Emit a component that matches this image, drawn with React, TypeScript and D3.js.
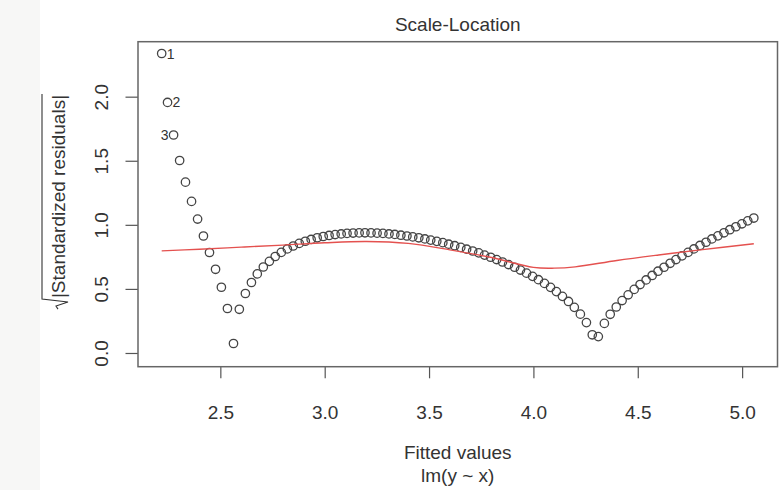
import React, { useEffect, useRef } from 'react';
import * as d3 from 'd3';

// fitted values of lm(y ~ x), one per observation
const fitted = [
  2.219, 2.247, 2.276, 2.305, 2.333, 2.362, 2.391, 2.419, 2.448, 2.477,
  2.505, 2.534, 2.563, 2.591, 2.620, 2.649, 2.677, 2.706, 2.735, 2.763,
  2.792, 2.821, 2.849, 2.878, 2.907, 2.935, 2.964, 2.993, 3.021, 3.050,
  3.079, 3.107, 3.136, 3.165, 3.193, 3.222, 3.251, 3.279, 3.308, 3.336,
  3.365, 3.394, 3.422, 3.451, 3.480, 3.508, 3.537, 3.566, 3.594, 3.623,
  3.652, 3.680, 3.709, 3.738, 3.766, 3.795, 3.824, 3.852, 3.881, 3.910,
  3.938, 3.967, 3.996, 4.024, 4.053, 4.082, 4.110, 4.139, 4.168, 4.196,
  4.225, 4.254, 4.282, 4.311, 4.340, 4.368, 4.397, 4.425, 4.454, 4.483,
  4.511, 4.540, 4.569, 4.597, 4.626, 4.655, 4.683, 4.712, 4.741, 4.769,
  4.798, 4.827, 4.855, 4.884, 4.913, 4.941, 4.970, 4.999, 5.027, 5.056,
];

// sqrt(|standardized residuals|)
const sqrtStdRes = [
  2.337, 1.955, 1.701, 1.502, 1.333, 1.183, 1.045, 0.913, 0.784, 0.653,
  0.513, 0.347, 0.074, 0.341, 0.464, 0.550, 0.617, 0.671, 0.715, 0.753,
  0.785, 0.812, 0.835, 0.855, 0.872, 0.886, 0.899, 0.909, 0.917, 0.924,
  0.929, 0.933, 0.936, 0.937, 0.938, 0.937, 0.935, 0.933, 0.929, 0.925,
  0.919, 0.913, 0.906, 0.899, 0.890, 0.881, 0.871, 0.861, 0.849, 0.837,
  0.824, 0.810, 0.796, 0.781, 0.764, 0.747, 0.729, 0.710, 0.690, 0.669,
  0.647, 0.623, 0.598, 0.572, 0.543, 0.512, 0.479, 0.442, 0.402, 0.356,
  0.303, 0.237, 0.142, 0.128, 0.231, 0.302, 0.359, 0.409, 0.454, 0.496,
  0.534, 0.570, 0.605, 0.638, 0.669, 0.700, 0.729, 0.758, 0.785, 0.812,
  0.839, 0.864, 0.890, 0.914, 0.938, 0.962, 0.985, 1.008, 1.031, 1.053,
];

// labelled observations and which side the id sits on
const labelIds = [1, 2, 3];
const labelSide = ['right', 'right', 'left'];

// red smoother
const smoothX = [2.219, 2.4, 2.6, 2.8, 3.0, 3.2, 3.4, 3.6, 3.8, 4.0, 4.1, 4.2, 4.4, 4.6, 4.8, 5.056];
const smoothY = [0.797, 0.81, 0.826, 0.842, 0.86, 0.87, 0.855, 0.805, 0.745, 0.668, 0.662, 0.672, 0.722, 0.765, 0.805, 0.852];

const xTicks = [2.5, 3.0, 3.5, 4.0, 4.5, 5.0];
const yTicks = [0.0, 0.5, 1.0, 1.5, 2.0];

const App = () => {
  const ref = useRef<SVGSVGElement>(null);

  useEffect(() => {
    if (!ref.current) return;
    const svg = d3.select(ref.current);
    svg.selectAll('*').remove();

    const width = 779;
    const height = 490;
    const box = { left: 138, right: 777.5, top: 41.7, bottom: 366.7 };
    const font = '"Liberation Sans", Arial, Helvetica, sans-serif';
    const ink = '#333';
    const fs = 19;

    svg.append('rect').attr('width', width).attr('height', height).attr('fill', '#fff');
    svg.append('rect').attr('width', 40).attr('height', height).attr('fill', '#f7f7f6');

    const x = d3.scaleLinear().domain([2.1055, 5.1695]).range([box.left, box.right]);
    const y = d3.scaleLinear().domain([-0.107, 2.429]).range([box.bottom, box.top]);

    // x axis
    const gx = svg.append('g')
      .attr('transform', `translate(0,${box.bottom})`)
      .call(d3.axisBottom(x).tickValues(xTicks).tickFormat(d3.format('.1f')).tickSize(11.6).tickPadding(27.7));
    gx.select('.domain').remove();
    gx.selectAll('line').attr('stroke', '#555').attr('stroke-width', 1.2);
    gx.selectAll('text').attr('fill', ink).style('font-family', font).style('font-size', fs + 'px');

    // y axis, labels parallel to the axis
    const gy = svg.append('g')
      .attr('transform', `translate(${box.left},0)`)
      .call(d3.axisLeft(y).tickValues(yTicks).tickFormat(d3.format('.1f')).tickSize(12.5));
    gy.select('.domain').remove();
    gy.selectAll('line').attr('stroke', '#555').attr('stroke-width', 1.2);
    gy.selectAll('text')
      .attr('x', null).attr('dy', null)
      .attr('transform', 'translate(-30,0) rotate(-90)')
      .attr('text-anchor', 'middle')
      .attr('fill', ink)
      .style('font-family', font).style('font-size', fs + 'px');

    // box
    svg.append('rect')
      .attr('x', box.left).attr('y', box.top)
      .attr('width', box.right - box.left).attr('height', box.bottom - box.top)
      .attr('fill', 'none').attr('stroke', '#666').attr('stroke-width', 1.5);

    // points
    svg.append('g').selectAll('circle')
      .data(fitted)
      .join('circle')
      .attr('cx', d => x(d))
      .attr('cy', (d, i) => y(sqrtStdRes[i]))
      .attr('r', 4.2)
      .attr('fill', 'none')
      .attr('stroke', '#444')
      .attr('stroke-width', 1.3);

    // smoother
    const line = d3.line<number>()
      .x(d => x(d))
      .y((d, i) => y(smoothY[i]))
      .curve(d3.curveCatmullRom);
    svg.append('path')
      .datum(smoothX)
      .attr('fill', 'none')
      .attr('stroke', '#e4514f')
      .attr('stroke-width', 1.4)
      .attr('d', line);

    // id labels
    labelIds.forEach((id, k) => {
      const i = id - 1;
      const right = labelSide[k] === 'right';
      svg.append('text')
        .attr('x', x(fitted[i]) + (right ? 5 : -5))
        .attr('y', y(sqrtStdRes[i]))
        .attr('dy', '0.36em')
        .attr('text-anchor', right ? 'start' : 'end')
        .attr('fill', ink)
        .style('font-family', font).style('font-size', '14px')
        .text(id);
    });

    const cx = (box.left + box.right) / 2;
    svg.append('text')
      .attr('x', cx).attr('y', 31)
      .attr('text-anchor', 'middle').attr('fill', ink)
      .style('font-family', font).style('font-size', fs + 'px')
      .text('Scale-Location');
    svg.append('text')
      .attr('x', cx).attr('y', 459)
      .attr('text-anchor', 'middle').attr('fill', ink)
      .style('font-family', font).style('font-size', fs + 'px')
      .text('Fitted values');
    svg.append('text')
      .attr('x', cx).attr('y', 482)
      .attr('text-anchor', 'middle').attr('fill', ink)
      .style('font-family', font).style('font-size', fs + 'px')
      .text('lm(y ~ x)');

    // y label with radical sign
    const gl = svg.append('g').attr('transform', 'translate(65,202) rotate(-90)');
    const lab = gl.append('text')
      .attr('x', 5.5).attr('y', 0)
      .attr('text-anchor', 'middle').attr('fill', ink)
      .style('font-family', font).style('font-size', fs + 'px')
      .text('|Standardized residuals|');
    const len = (lab.node() as SVGTextElement).getComputedTextLength();
    const s0 = 5.5 - len / 2;
    gl.append('path')
      .attr('d', `M${s0 - 11},-7 L${s0 - 8},-9 L${s0 - 4},3 L${s0 - 1},-23 L${s0 + len + 1},-23`)
      .attr('fill', 'none').attr('stroke', ink).attr('stroke-width', 1.1);
  }, []);

  return (
    <svg
      ref={ref}
      width={779}
      height={490}
      style={{ position: 'absolute', left: 0, top: 0 }}
    />
  );
};

export default App;
